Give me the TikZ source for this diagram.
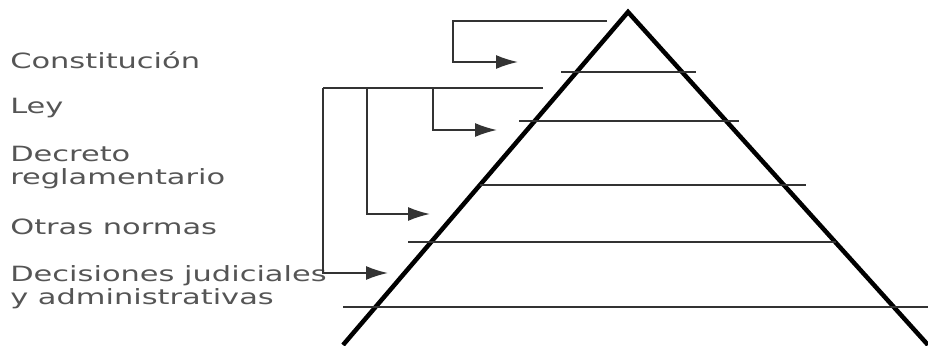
\documentclass[tikz,border=0pt]{standalone}
\usepackage{fontspec}
\setmainfont{DejaVu Sans}
\usetikzlibrary{arrows.meta}
\definecolor{textgray}{HTML}{555555}
\definecolor{linegray}{HTML}{333333}
\tikzstyle{label}=[anchor=west,align=left,inner sep=0pt,text=textgray,
	font=\fontsize{21}{23}\selectfont,xscale=1.45,transform shape]
\tikzstyle{level}=[linegray,line width=1.6pt]
\tikzstyle{bracket}=[linegray,line width=1.8pt,-{Latex[length=22pt,width=14pt]}]

\begin{document}
\begin{tikzpicture}[x=1pt, y=-1pt]
	\useasboundingbox (0,0) rectangle (928,345);
	%pyramid
	\draw[line width=4.5pt] (343,345) -- (628,12) -- (928,345);
	\draw[level] (561,72) -- (696,72);
	\draw[level] (519,121) -- (739,121);
	\draw[level] (480,185) -- (806,185);
	\draw[level] (408,242) -- (836,242);
	\draw[level] (343,307) -- (928,307);
	%labels
	\node[label] (const) at (10,60) {Constitución};
	\node[label] (ley) at (10,108) {Ley};
	\node[label] (decreto) at (10,168) {Decreto\\reglamentario};
	\node[label] (otras) at (10,227) {Otras normas};
	\node[label] (decis) at (10,287) {Decisiones judiciales\\y administrativas};
	%brackets
	\coordinate (top a) at (607,21);
	\coordinate (top b) at (543,88);
	\coordinate (tip const) at (518,62);
	\coordinate (tip ley) at (497,130);
	\coordinate (tip decreto) at (430,214);
	\coordinate (tip decis) at (388,273);
	\draw[bracket] (top a) -- (453,21) |- (tip const);
	\draw[level] (top b) -- (323,88);
	\draw[bracket] (433,88) |- (tip ley);
	\draw[bracket] (367,88) |- (tip decreto);
	\draw[bracket] (323,88) |- (tip decis);
\end{tikzpicture}
\end{document}
